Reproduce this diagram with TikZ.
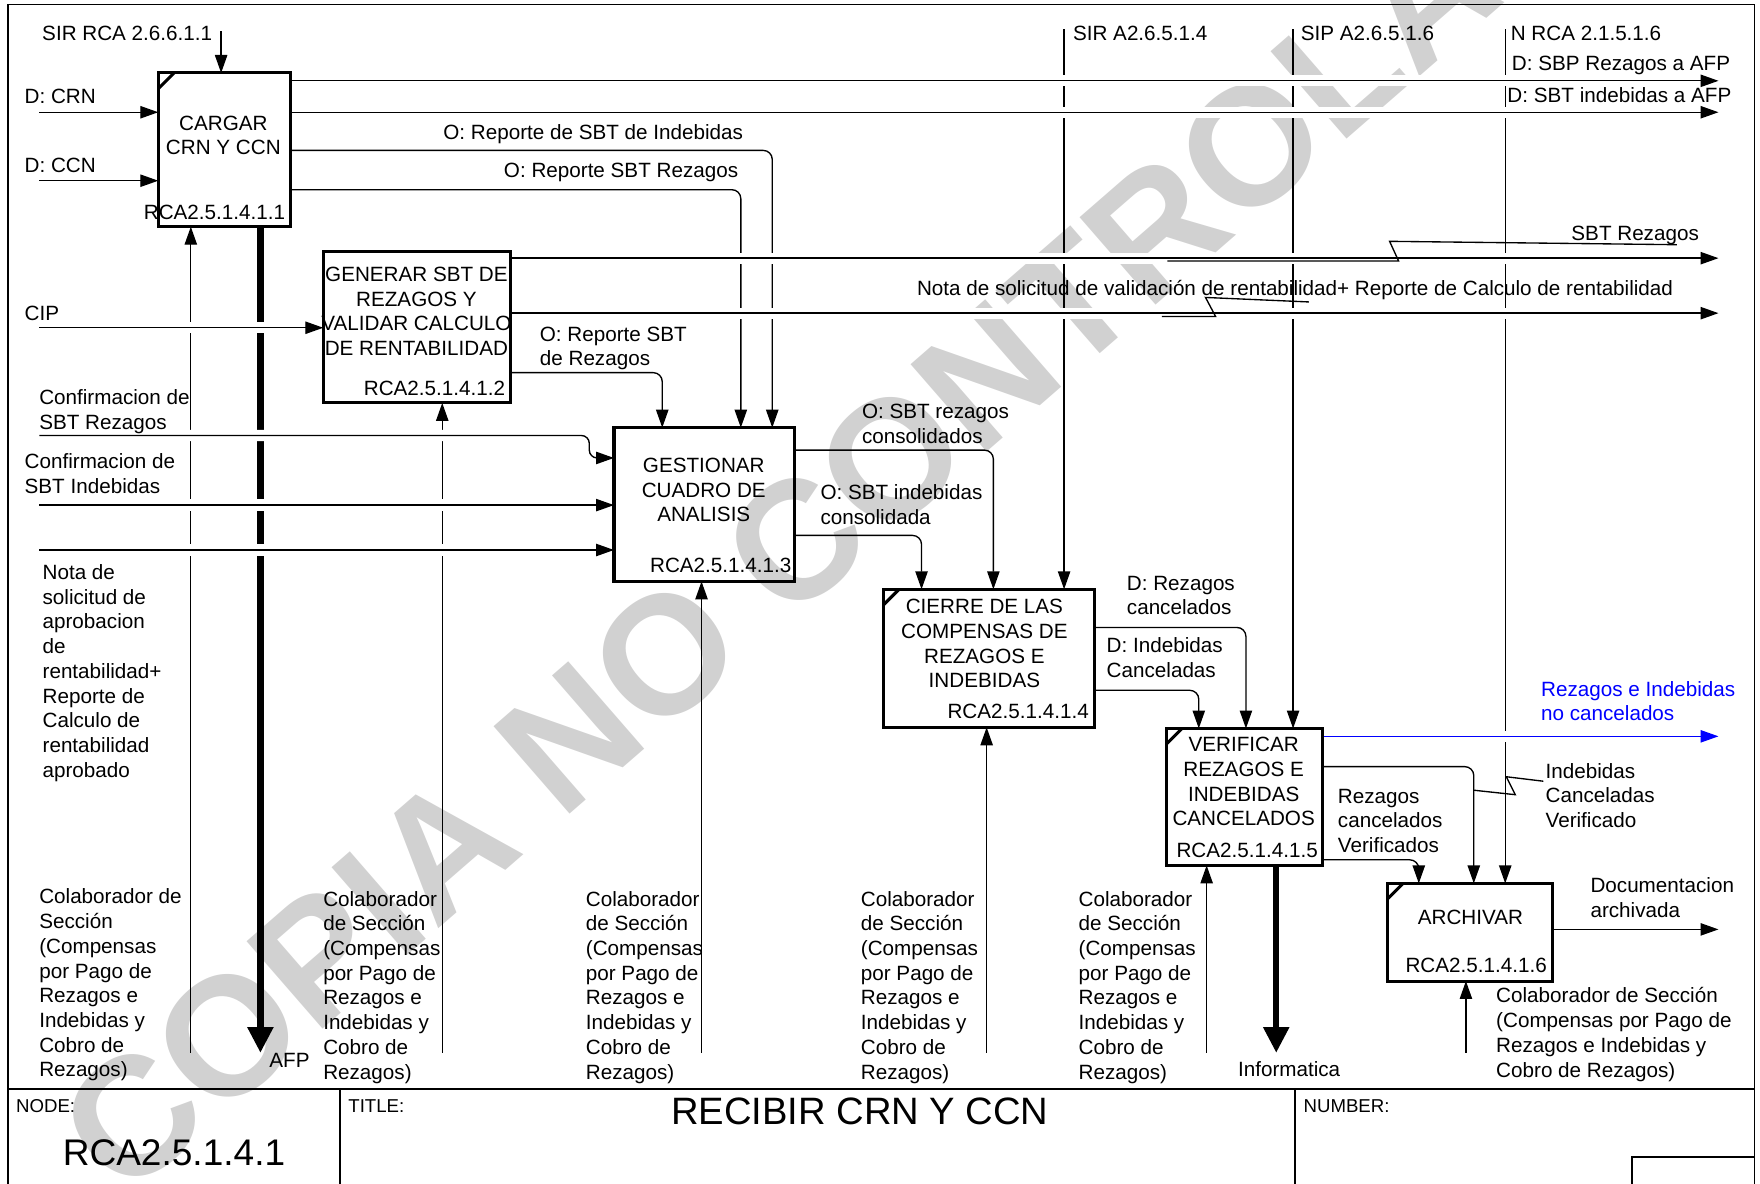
\documentclass[tikz,border=0pt]{standalone}
\usepackage{fontspec}
\setmainfont{Liberation Sans}
\usetikzlibrary{arrows.meta}
\newcommand{\lblfont}{\fontsize{9.2}{11}\selectfont}
\begin{document}
\begin{tikzpicture}[x=0.5pt, y=-0.5pt,
  wire/.style={draw, line width=0.6pt},
  arr/.style={wire, -{Triangle[length=8pt,width=5.5pt]}},
  bigarr/.style={draw, line width=2.8pt, -{Triangle[length=11.5pt,width=11pt]}},
  halo/.style={preaction={draw=white, line width=5pt, arrows=-}},
  actbox/.style={rectangle, inner sep=0pt, outer sep=0pt},
  boxline/.style={draw, line width=1.35pt},
  frameline/.style={draw, line width=0.8pt},
  lbl/.style={anchor=north west, inner sep=0pt, outer sep=0pt, align=left, font=\lblfont},
  boxtxt/.style={anchor=north, inner sep=0pt, outer sep=0pt, align=center, font=\lblfont},
  boxid/.style={anchor=east, inner sep=0pt, outer sep=0pt, font=\lblfont},
  small/.style={anchor=north west, inner sep=0pt, font=\fontsize{8.3}{10}\selectfont}
]
\useasboundingbox (0,0) rectangle (1568,1054);
\clip (0,0) rectangle (1568,1054);

% watermark behind everything
\node[rotate=41, text=black!18, inner sep=0pt,
      font=\fontsize{75}{78}\selectfont\bfseries] (wm) at (775,425) {COPIA NO CONTROLADA};

% sheet frame and title block
\draw[frameline] (7,4) rectangle (1563,1075);
\draw[frameline] (7,970) -- (1563,970);
\draw[frameline] (303,970) -- (303,1075);
\draw[frameline] (1154,970) -- (1154,1075);
\draw[frameline] (1454,1031) rectangle (1563,1075);

% activity boxes (outlines drawn last)
\node[actbox, minimum width=59pt,   minimum height=68.5pt] (cargar)    at (200,133.5) {};
\node[actbox, minimum width=83.5pt, minimum height=67.5pt] (generar)   at (371.5,291.5) {};
\node[actbox, minimum width=80.5pt, minimum height=68.5pt] (gestionar) at (627.5,449.5) {};
\node[actbox, minimum width=94pt,   minimum height=61.5pt] (cierre)    at (881,586.5) {};
\node[actbox, minimum width=69.5pt, minimum height=61pt]   (verificar) at (1108.5,710) {};
\node[actbox, minimum width=73.5pt, minimum height=43.5pt] (archivar)  at (1309.5,830.5) {};

% free ends
\coordinate (ctlA) at (197,28);
\coordinate (ctlB) at (948,26);
\coordinate (ctlC) at (1152,26);
\coordinate (ctlD) at (1341,26);
\coordinate (inCRN) at (35,100);
\coordinate (inCCN) at (35,161);
\coordinate (inCIP) at (35,292);
\coordinate (inConfR) at (35,388);
\coordinate (inConfI) at (35,450);
\coordinate (inNota) at (35,490);
\coordinate (outSBP) at (1531,72);
\coordinate (outSBTi) at (1531,100);
\coordinate (outSBTr) at (1531,230);
\coordinate (outNota) at (1531,279);
\coordinate (outNoCanc) at (1531,656);
\coordinate (outDoc) at (1531,828);
\coordinate (mecA) at (170,938);
\coordinate (mecB) at (394,938);
\coordinate (mecC) at (625,938);
\coordinate (mecD) at (879,938);
\coordinate (mecE) at (1075,938);
\coordinate (mecF) at (1306,938);
\coordinate (outAFP) at (232,938);
\coordinate (outInf) at (1137,938);

% controls from the top
\draw[arr] (ctlA) -- (ctlA |- cargar.north);
\draw[arr] (ctlB) -- (ctlB |- cierre.north);
\draw[arr] (ctlC) -- (ctlC |- verificar.north);
\draw[arr] (ctlD) -- (ctlD |- archivar.north);

% mechanisms from the bottom
\foreach \m/\b in {mecA/cargar, mecB/generar, mecC/gestionar, mecD/cierre, mecE/verificar, mecF/archivar}
  \draw[arr] (\m) -- (\m |- \b.south);

% call arrows
\draw[bigarr] (outAFP |- cargar.south) -- (outAFP);
\draw[bigarr] (outInf |- verificar.south) -- (outInf);

% box to box connections
\draw[arr, rounded corners=4pt] (cargar.east |- 0,134) -| (688,0 |- gestionar.north);
\draw[arr, rounded corners=4pt] (cargar.east |- 0,169) -| (660,0 |- gestionar.north);
\draw[arr, rounded corners=4pt] (generar.east |- 0,332) -| (590,0 |- gestionar.north);
\draw[arr, rounded corners=4pt] (gestionar.east |- 0,401) -| (885,0 |- cierre.north);
\draw[arr, rounded corners=4pt] (gestionar.east |- 0,477) -| (821,0 |- cierre.north);
\draw[arr, rounded corners=4pt] (cierre.east |- 0,559) -| (1110,0 |- verificar.north);
\draw[arr, rounded corners=4pt] (cierre.east |- 0,615) -| (1068,0 |- verificar.north);
\draw[arr, rounded corners=4pt] (verificar.east |- 0,683) -| (1313,0 |- archivar.north);
\draw[arr, rounded corners=4pt] (verificar.east |- 0,766) -| (1264,0 |- archivar.north);
\draw[arr] (archivar.east |- outDoc) -- (outDoc);

% horizontal arrows crossing the vertical ones
\draw[arr, halo] (cargar.east |- outSBP) -- (outSBP);
\draw[arr, halo] (cargar.east |- outSBTi) -- (outSBTi);
\draw[arr, halo] (generar.east |- outSBTr) -- (outSBTr);
\draw[arr, halo] (generar.east |- outNota) -- (outNota);
\draw[arr] (inCRN) -- (inCRN -| cargar.west);
\draw[arr] (inCCN) -- (inCCN -| cargar.west);
\draw[arr, halo] (inCIP) -- (inCIP -| generar.west);
\draw[arr, halo, rounded corners=3.5pt] (inConfR) -- (525,388) -- (525,408) -- (gestionar.west |- 0,408);
\draw[arr, halo] (inConfI) -- (inConfI -| gestionar.west);
\draw[arr, halo] (inNota) -- (inNota -| gestionar.west);
\draw[arr, halo, draw=blue] (verificar.east |- outNoCanc) -- (outNoCanc);

% label squiggles
\draw[wire] (1494,218) -- (1238,215) -- (1246,232.5) -- (1040,232.5);
\draw[wire] (1166,269) -- (1074,265) -- (1083,282) -- (1035,282);
\draw[wire] (1313,704) -- (1350,708) -- (1342,692) -- (1375,696);

% box outlines and corner marks
\foreach \b in {cargar,generar,gestionar,cierre,verificar,archivar}
  \draw[boxline] (\b.south west) rectangle (\b.north east);
\foreach \b in {cargar,cierre,verificar,archivar}
  \draw[boxline] ([yshift=-7pt]\b.north west) -- ([xshift=7pt]\b.north west);

% box texts
\node[boxtxt] (cargar-t) at (199,103) {CARGAR\\CRN Y CCN};
\node[boxid] (cargar-id) at (254,189) {RCA2.5.1.4.1.1};
\node[boxtxt] (generar-t) at (371,238) {GENERAR SBT DE\\REZAGOS Y\\VALIDAR CALCULO\\DE RENTABILIDAD};
\node[boxid] (generar-id) at (450,346) {RCA2.5.1.4.1.2};
\node[boxtxt] (gestionar-t) at (627,408) {GESTIONAR\\CUADRO DE\\ANALISIS};
\node[boxid] (gestionar-id) at (705,504) {RCA2.5.1.4.1.3};
\node[boxtxt] (cierre-t) at (877,534) {CIERRE DE LAS\\COMPENSAS DE\\REZAGOS E\\INDEBIDAS};
\node[boxid] (cierre-id) at (970,634) {RCA2.5.1.4.1.4};
\node[boxtxt] (verificar-t) at (1108,657) {VERIFICAR\\REZAGOS E\\INDEBIDAS\\CANCELADOS};
\node[boxid] (verificar-id) at (1174,758) {RCA2.5.1.4.1.5};
\node[boxtxt] (archivar-t) at (1310,811) {ARCHIVAR};
\node[boxid] (archivar-id) at (1378,860) {RCA2.5.1.4.1.6};

% arrow labels
\node[lbl, anchor=north east] (l-ctlA) at (189,23) {SIR RCA 2.6.6.1.1};
\node[lbl] (l-ctlB) at (956,23) {SIR A2.6.5.1.4};
\node[lbl] (l-ctlC) at (1159,23) {SIP A2.6.5.1.6};
\node[lbl] (l-ctlD) at (1346,23) {N RCA 2.1.5.1.6};
\node[lbl] (l-sbp) at (1347,50) {D: SBP Rezagos a AFP};
\node[lbl] (l-sbti) at (1343,78) {D: SBT indebidas a AFP};
\node[lbl] (l-crn) at (22,79) {D: CRN};
\node[lbl] (l-ccn) at (22,141) {D: CCN};
\node[lbl] (l-repind) at (395,111) {O: Reporte de SBT de Indebidas};
\node[lbl] (l-reprez) at (449,145) {O: Reporte SBT Rezagos};
\node[lbl] (l-cip) at (22,273) {CIP};
\node[lbl] (l-sbtr) at (1400,201) {SBT Rezagos};
\node[lbl] (l-nota) at (817,250) {Nota de solicitud de validación de rentabilidad+ Reporte de Calculo de rentabilidad};
\node[lbl] (l-reprez2) at (481,291) {O: Reporte SBT\\de Rezagos};
\node[lbl] (l-confr) at (35,347) {Confirmacion de\\SBT Rezagos};
\node[lbl] (l-confi) at (22,404) {Confirmacion de\\SBT Indebidas};
\node[lbl] (l-consr) at (768,360) {O: SBT rezagos\\consolidados};
\node[lbl] (l-consi) at (731,432) {O: SBT indebidas\\consolidada};
\node[lbl] (l-notaap) at (38,503) {Nota de\\solicitud de\\aprobacion\\de\\rentabilidad+\\Reporte de\\Calculo de\\rentabilidad\\aprobado};
\node[lbl] (l-rcanc) at (1004,513) {D: Rezagos\\cancelados};
\node[lbl] (l-icanc) at (986,568) {D: Indebidas\\Canceladas};
\node[lbl, text=blue] (l-nocanc) at (1373,607) {Rezagos e Indebidas\\no cancelados};
\node[lbl] (l-iver) at (1377,680) {Indebidas\\Canceladas\\Verificado};
\node[lbl] (l-rver) at (1192,703) {Rezagos\\cancelados\\Verificados};
\node[lbl] (l-doc) at (1417,782) {Documentacion\\archivada};
\node[lbl] (l-mecF) at (1333,880) {Colaborador de Sección\\(Compensas por Pago de\\Rezagos e Indebidas y\\Cobro de Rezagos)};
\node[lbl] (l-mecA) at (35,792) {Colaborador de\\Sección\\(Compensas\\por Pago de\\Rezagos e\\Indebidas y\\Cobro de\\Rezagos)};
\foreach \x/\n in {288/B, 522/C, 767/D, 961/E}
  \node[lbl] (l-mec\n) at (\x,794) {Colaborador\\de Sección\\(Compensas\\por Pago de\\Rezagos e\\Indebidas y\\Cobro de\\Rezagos)};
\node[lbl] (l-afp) at (240,938) {AFP};
\node[lbl] (l-inf) at (1103,946) {Informatica};

% title block texts
\node[small] (t-node) at (14,979) {NODE:};
\node[small] (t-title) at (310,979) {TITLE:};
\node[small] (t-number) at (1161,979) {NUMBER:};
\node[inner sep=0pt, font=\fontsize{16.5}{18}\selectfont] (t-nodeid) at (155,1027) {RCA2.5.1.4.1};
\node[inner sep=0pt, font=\fontsize{17}{19}\selectfont] (t-name) at (766,990) {RECIBIR CRN Y CCN};
\end{tikzpicture}
\end{document}
